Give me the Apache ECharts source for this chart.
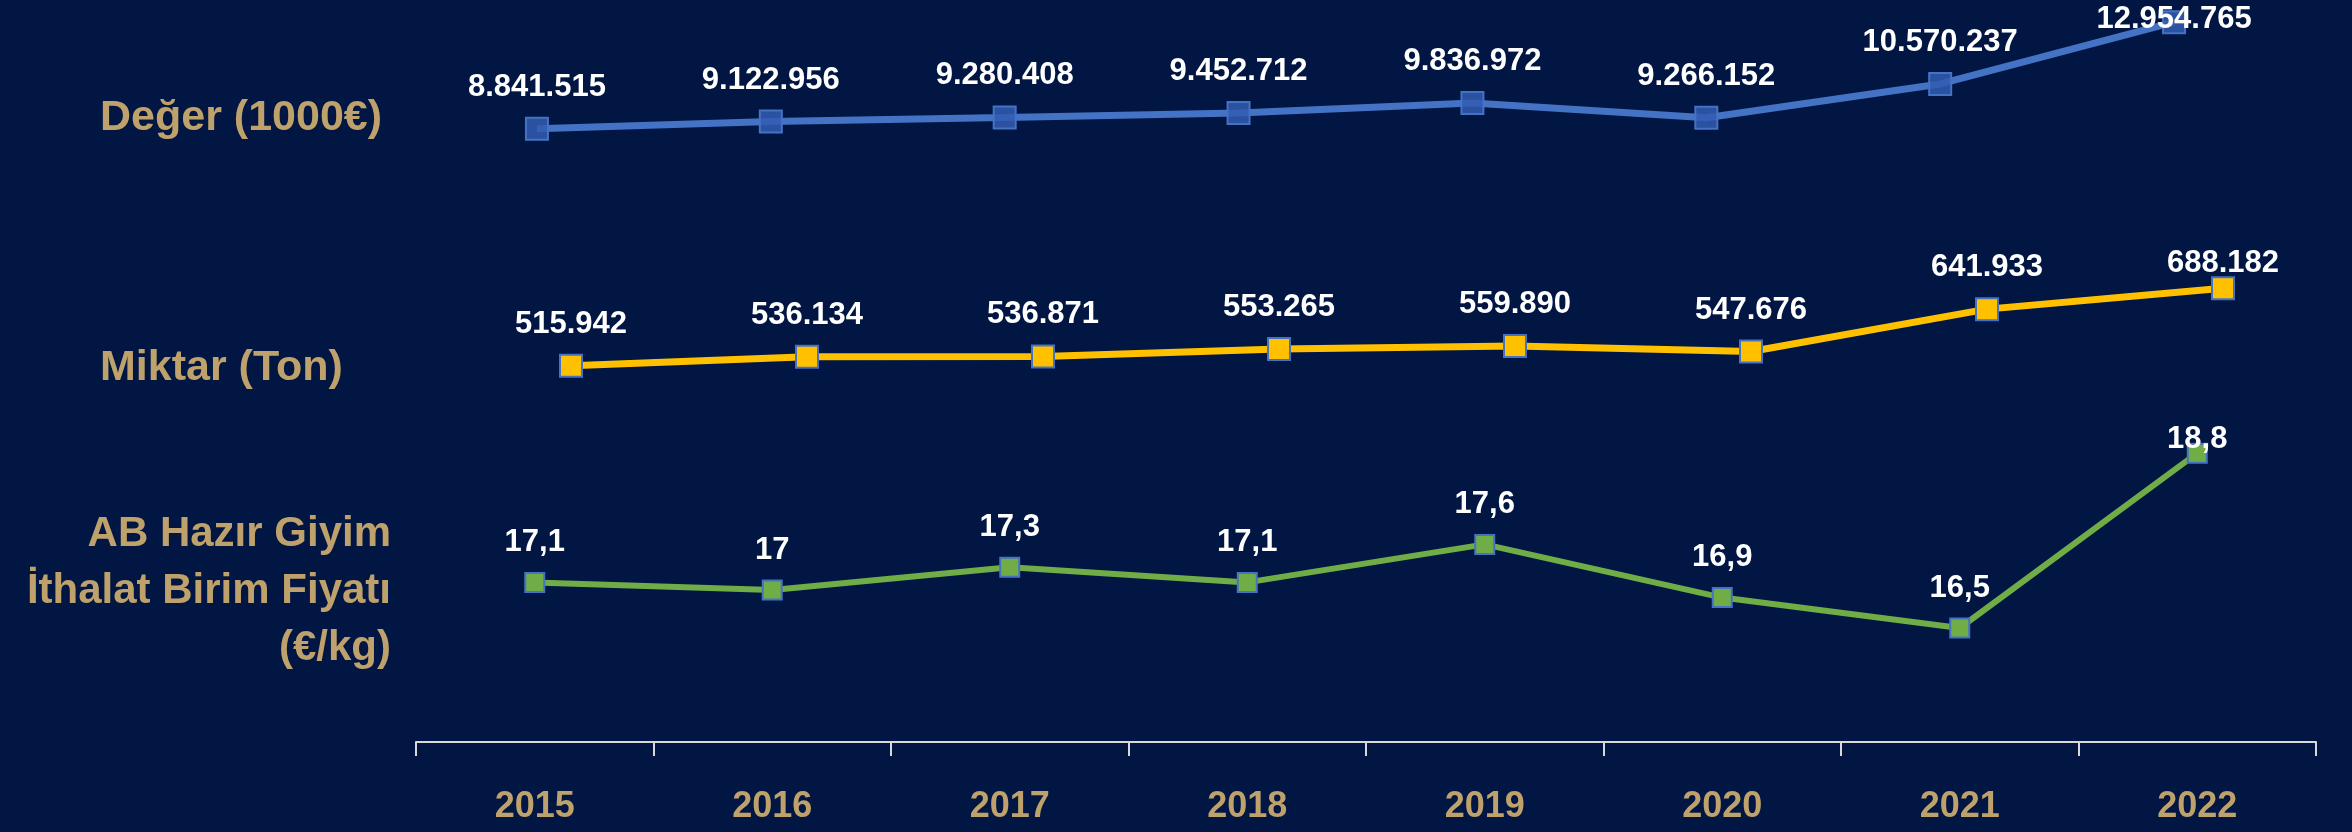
<!DOCTYPE html>
<html>
<head>
<meta charset="utf-8">
<script src="https://cdn.jsdelivr.net/npm/echarts@6/dist/echarts.min.js"></script>
<style>
	html, body { margin: 0; padding: 0; background: #011643; }
	#charts { width: 2352px; height: 832px; }
</style>
</head>
<body>
<div id="charts"></div>
<script>
const years = ['2015', '2016', '2017', '2018', '2019', '2020', '2021', '2022'];
const degerValues = [8841515, 9122956, 9280408, 9452712, 9836972, 9266152, 10570237, 12954765];
const miktarValues = [515942, 536134, 536871, 553265, 559890, 547676, 641933, 688182];
const fiyatValues = [17.1, 17, 17.3, 17.1, 17.6, 16.9, 16.5, 18.8];

const GOLD = '#BFA26B';
const FONT = '"Liberation Sans", Arial, sans-serif';

// 1.234.567 / 17,1
function trNumber(v) {
	const parts = String(v).split('.');
	parts[0] = parts[0].replace(/\B(?=(\d{3})+(?!\d))/g, '.');
	return parts.join(',');
}

// last point label sits lower in the original (no room above)
function withLastOffset(values, dy) {
	return values.map((v, i) => {
		if (i !== values.length - 1) {
			return v;
		}
		return { value: v, label: { offset: [0, dy] } };
	});
}

const labelStyle = {
	show: true,
	position: 'top',
	distance: 14,
	color: '#ffffff',
	fontFamily: FONT,
	fontWeight: 'bold',
	fontSize: 31,
	formatter: (p) => trNumber(p.value)
};

const myChart = echarts.init(document.getElementById('charts'));

const hiddenX = (idx) => ({
	type: 'category',
	gridIndex: idx,
	data: years,
	boundaryGap: true,
	show: false
});

const hiddenY = (idx, min, max) => ({
	type: 'value',
	gridIndex: idx,
	min: min,
	max: max,
	show: false,
	splitLine: { show: false }
});

const option = {
	backgroundColor: '#011643',
	animation: false,
	grid: [
		{ left: 420, top: 8, width: 1871, height: 350, containLabel: false },
		{ left: 453, top: 238, width: 1888, height: 360, containLabel: false },
		{ left: 416, top: 362, width: 1900, height: 380, containLabel: false }
	],
	xAxis: [
		hiddenX(0),
		hiddenX(1),
		{
			type: 'category',
			gridIndex: 2,
			data: years,
			boundaryGap: true,
			axisLine: { show: true, lineStyle: { color: '#D9D9D9', width: 2 } },
			axisTick: { show: true, length: 14, lineStyle: { color: '#D9D9D9', width: 2 } },
			axisLabel: {
				color: GOLD,
				fontFamily: FONT,
				fontWeight: 'bold',
				fontSize: 36,
				margin: 47
			}
		}
	],
	yAxis: [
		hiddenY(0, 0, 13500000),
		hiddenY(1, 0, 800000),
		hiddenY(2, 15, 20)
	],
	graphic: [
		{
			type: 'text',
			x: 100, y: 118,
			style: { text: 'Değer (1000€)', fill: GOLD, font: 'bold 43px ' + FONT, align: 'left', verticalAlign: 'middle' }
		},
		{
			type: 'text',
			x: 100, y: 368,
			style: { text: 'Miktar (Ton)', fill: GOLD, font: 'bold 43px ' + FONT, align: 'left', verticalAlign: 'middle' }
		},
		{
			type: 'text',
			x: 391, y: 591,
			style: {
				text: 'AB Hazır Giyim\nİthalat Birim Fiyatı\n(€/kg)',
				fill: GOLD, font: 'bold 42px ' + FONT, lineHeight: 57,
				align: 'right', verticalAlign: 'middle'
			}
		}
	],
	series: [
		{
			name: 'Değer',
			type: 'line',
			xAxisIndex: 0, yAxisIndex: 0,
			data: withLastOffset(degerValues, 39),
			symbol: 'rect',
			symbolSize: 22,
			lineStyle: { color: '#4472C4', width: 7 },
			itemStyle: { color: 'rgba(50,92,178,0.85)', borderColor: '#4472C4', borderWidth: 2 },
			label: labelStyle
		},
		{
			name: 'Miktar',
			type: 'line',
			xAxisIndex: 1, yAxisIndex: 1,
			data: withLastOffset(miktarValues, 17),
			symbol: 'rect',
			symbolSize: 22,
			lineStyle: { color: '#FFC000', width: 7 },
			itemStyle: { color: '#FFC000', borderColor: '#4472C4', borderWidth: 2 },
			label: labelStyle
		},
		{
			name: 'Fiyat',
			type: 'line',
			xAxisIndex: 2, yAxisIndex: 2,
			data: withLastOffset(fiyatValues, 26),
			symbol: 'rect',
			symbolSize: 19,
			lineStyle: { color: '#70AD47', width: 6 },
			itemStyle: { color: '#70AD47', borderColor: '#4472C4', borderWidth: 2 },
			label: labelStyle
		}
	]
};

myChart.setOption(option);
</script>
</body>
</html>
